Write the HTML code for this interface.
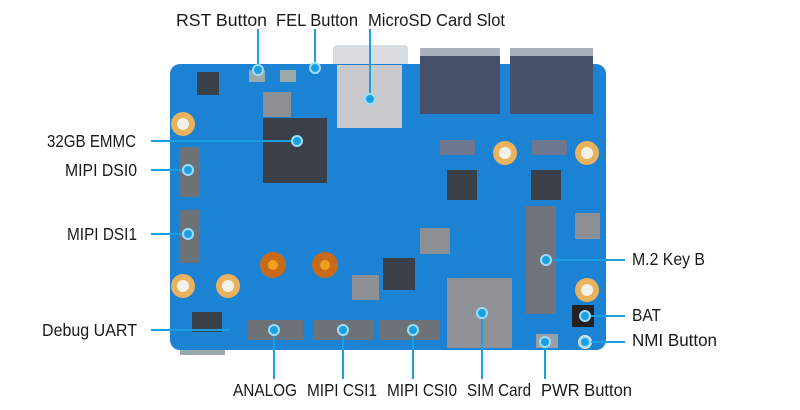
<!DOCTYPE html>
<html><head><meta charset="utf-8"><style>
html,body{margin:0;padding:0;background:#fff;}
svg{display:block;}
text{font-family:"Liberation Sans",sans-serif;font-size:17.5px;fill:#1a1a1a;}
.l{stroke:#1aa0e0;stroke-width:2;fill:none;}
.d{fill:#1aa0e0;stroke:#9fdcf8;stroke-width:2;}
.h{fill:#e9b25c;}
.hc{fill:#f4f1ea;}
</style></head><body>
<svg width="800" height="410" viewBox="0 0 800 410">
<rect x="333" y="45" width="75" height="30" rx="4" fill="#d8dbe0"/>
<rect x="420" y="48" width="80" height="66" rx="2" fill="#4f5a72"/>
<rect x="510" y="48" width="83" height="66" rx="2" fill="#4f5a72"/>
<rect x="420" y="48" width="80" height="8" fill="#aab0bd"/>
<rect x="510" y="48" width="83" height="8" fill="#aab0bd"/>
<rect x="170" y="64" width="436" height="286" rx="10" fill="#1b82d4"/>
<rect x="180" y="350" width="45" height="5" fill="#9aa"/>
<rect x="420" y="56" width="80" height="58" fill="#46506a"/>
<rect x="510" y="56" width="83" height="58" fill="#46506a"/>
<circle cx="183" cy="124" r="12" class="h"/><circle cx="183" cy="124" r="6" class="hc"/>
<circle cx="505" cy="153" r="12" class="h"/><circle cx="505" cy="153" r="6" class="hc"/>
<circle cx="587" cy="153" r="12" class="h"/><circle cx="587" cy="153" r="6" class="hc"/>
<circle cx="183" cy="286" r="12" class="h"/><circle cx="183" cy="286" r="6" class="hc"/>
<circle cx="228" cy="286" r="12" class="h"/><circle cx="228" cy="286" r="6" class="hc"/>
<circle cx="587" cy="290" r="12" class="h"/><circle cx="587" cy="290" r="6" class="hc"/>
<rect x="263" y="118" width="64" height="65" fill="#3a3f48"/>
<rect x="263" y="92" width="28" height="25" fill="#8c8f94"/>
<rect x="337" y="65" width="65" height="63" fill="#c7c9cc"/>
<rect x="447" y="170" width="30" height="30" fill="#3a3f48"/>
<rect x="531" y="170" width="30" height="30" fill="#3a3f48"/>
<rect x="383" y="258" width="32" height="32" fill="#3a3f48"/>
<rect x="420" y="228" width="30" height="26" fill="#8c8f94"/>
<rect x="352" y="275" width="27" height="25" fill="#8c8f94"/>
<rect x="575" y="213" width="25" height="26" fill="#8c8f94"/>
<rect x="197" y="72" width="22" height="23" fill="#3a3f48"/>
<rect x="192" y="312" width="30" height="20" fill="#3a3f48"/>
<rect x="440" y="140" width="35" height="15" fill="#6d7890"/>
<rect x="532" y="140" width="35" height="15" fill="#6d7890"/>
<rect x="180" y="147" width="20" height="50" fill="#6d7178"/>
<rect x="180" y="210" width="20" height="53" fill="#6d7178"/>
<rect x="248" y="320" width="55" height="20" fill="#6d7178"/>
<rect x="313" y="320" width="60" height="20" fill="#6d7178"/>
<rect x="380" y="320" width="60" height="20" fill="#6d7178"/>
<rect x="447" y="278" width="65" height="70" fill="#8e9196"/>
<rect x="526" y="206" width="30" height="108" fill="#6f747c"/>
<rect x="536" y="334" width="22" height="14" fill="#9a9ea5"/>
<rect x="572" y="305" width="22" height="22" fill="#222"/>
<circle cx="585" cy="342" r="7" fill="#e6e6e6"/>
<circle cx="273" cy="265" r="13" fill="#c96a1a"/><circle cx="273" cy="265" r="5" fill="#f0a020"/>
<circle cx="325" cy="265" r="13" fill="#c96a1a"/><circle cx="325" cy="265" r="5" fill="#f0a020"/>
<rect x="249" y="70" width="16" height="12" fill="#9aa"/>
<rect x="280" y="70" width="16" height="12" fill="#9aa"/>
<path class="l" d="M258 29V70 M315 29V68 M370 29V99 M151 141H297 M151 170H188 M151 234H188 M151 330H230 M274 330V379 M343 330V379 M413 330V379 M482 313V379 M545 342V379 M625 260H546 M625 316H585 M625 342H585"/>
<g>
<circle class="d" cx="258" cy="70" r="5"/><circle class="d" cx="315" cy="68" r="5"/>
<circle class="d" cx="370" cy="99" r="5"/><circle class="d" cx="297" cy="141" r="5"/>
<circle class="d" cx="188" cy="170" r="5"/><circle class="d" cx="188" cy="234" r="5"/>
<circle class="d" cx="274" cy="330" r="5"/><circle class="d" cx="343" cy="330" r="5"/>
<circle class="d" cx="413" cy="330" r="5"/><circle class="d" cx="482" cy="313" r="5"/>
<circle class="d" cx="545" cy="342" r="5"/><circle class="d" cx="546" cy="260" r="5"/>
<circle class="d" cx="585" cy="316" r="5"/><circle class="d" cx="585" cy="342" r="5"/>
</g>
<g lengthAdjust="spacingAndGlyphs">
<text x="176" y="26" textLength="91" lengthAdjust="spacingAndGlyphs">RST Button</text>
<text x="276" y="26" textLength="82" lengthAdjust="spacingAndGlyphs">FEL Button</text>
<text x="368" y="26" textLength="137" lengthAdjust="spacingAndGlyphs">MicroSD Card Slot</text>
<text x="47" y="147" textLength="89" lengthAdjust="spacingAndGlyphs">32GB EMMC</text>
<text x="65" y="176" textLength="72" lengthAdjust="spacingAndGlyphs">MIPI DSI0</text>
<text x="67" y="240" textLength="70" lengthAdjust="spacingAndGlyphs">MIPI DSI1</text>
<text x="42" y="336" textLength="95" lengthAdjust="spacingAndGlyphs">Debug UART</text>
<text x="233" y="396" textLength="64" lengthAdjust="spacingAndGlyphs">ANALOG</text>
<text x="307" y="396" textLength="70" lengthAdjust="spacingAndGlyphs">MIPI CSI1</text>
<text x="387" y="396" textLength="70" lengthAdjust="spacingAndGlyphs">MIPI CSI0</text>
<text x="467" y="396" textLength="64" lengthAdjust="spacingAndGlyphs">SIM Card</text>
<text x="541" y="396" textLength="91" lengthAdjust="spacingAndGlyphs">PWR Button</text>
<text x="632" y="265" textLength="73" lengthAdjust="spacingAndGlyphs">M.2 Key B</text>
<text x="632" y="321" textLength="29" lengthAdjust="spacingAndGlyphs">BAT</text>
<text x="632" y="346" textLength="85" lengthAdjust="spacingAndGlyphs">NMI Button</text>
</g>
</svg>
</body></html>
